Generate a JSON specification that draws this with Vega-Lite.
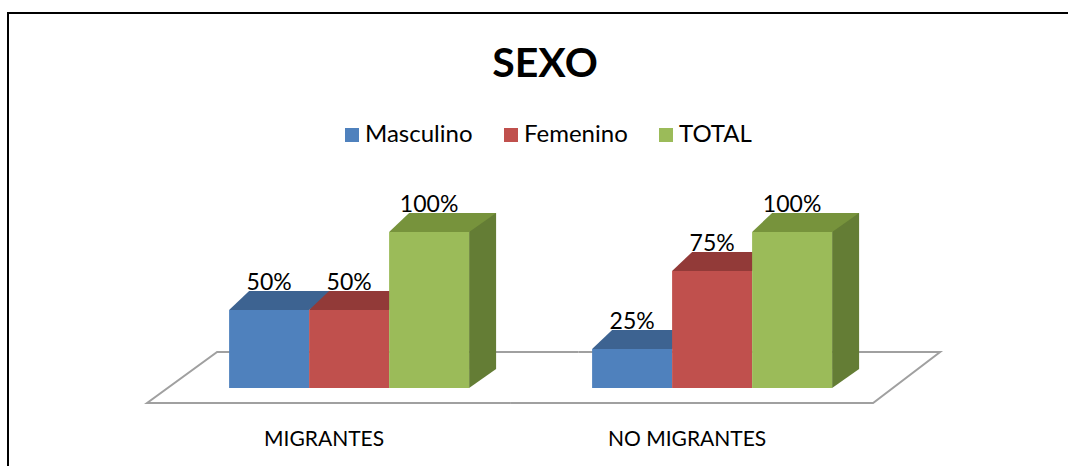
{
  "$schema": "https://vega.github.io/schema/vega-lite/v6.json",
  "width": 1064,
  "height": 457,
  "autosize": {"type": "none"},
  "padding": {"left": 8, "top": 13, "right": -4, "bottom": -4},
  "background": "white",
  "config": {"view": {"stroke": "#000000", "strokeWidth": 2}, "font": "Lato"},
  "title": {"text": "SEXO", "font": "Lato", "fontSize": 41, "fontWeight": "bold", "color": "#000000", "anchor": "middle", "frame": "group", "orient": "top", "offset": 0, "baseline": "alphabetic", "dy": 105, "dx": 5},
  "data": {"values": [
    {"group": "MIGRANTES", "series": "Masculino", "value": 0.5},
    {"group": "MIGRANTES", "series": "Femenino", "value": 0.5},
    {"group": "MIGRANTES", "series": "TOTAL", "value": 1.0},
    {"group": "NO MIGRANTES", "series": "Masculino", "value": 0.25},
    {"group": "NO MIGRANTES", "series": "Femenino", "value": 0.75},
    {"group": "NO MIGRANTES", "series": "TOTAL", "value": 1.0}
  ]},
  "encoding": {
    "x": {"field": "group", "type": "nominal", "sort": null,
      "scale": {"range": [159.6, 885.6], "paddingInner": 0, "paddingOuter": 0},
      "axis": {"title": null, "domain": false, "ticks": false, "tickSize": 0, "grid": false, "labelAngle": 0, "labelFont": "Lato", "labelFontSize": 21, "labelColor": "#000000", "labelPadding": 0, "labelBaseline": "alphabetic", "labelOffset": -25, "offset": -25}}
  },
  "layer": [
    {
      "transform": [{"filter": "datum.series === 'TOTAL'"}],
      "mark": {"type": "point", "filled": false, "size": 4, "opacity": 1, "stroke": "#A0A0A0", "strokeWidth": 2},
      "encoding": {
        "y": {"datum": 0, "type": "quantitative", "scale": {"domain": [0, 1], "range": [375, 219], "nice": false, "zero": true}, "axis": null},
        "shape": {"field": "group", "type": "nominal", "scale": {"domain": ["MIGRANTES", "NO MIGRANTES"], "range": ["M 229.5 -36 L -132 -36 L -202 15 L 161 15", "M -202 15 L 161 15 L 228 -36 L -133.5 -36"]}, "legend": null}
      }
    },
    {
      "transform": [{"filter": "datum.series === 'TOTAL'"}],
      "mark": {"type": "rule", "strokeWidth": 27, "color": "#647D35", "xOffset": 133.5, "yOffset": -19, "y2Offset": -19, "strokeCap": "butt"},
      "encoding": {
        "y": {"field": "value", "type": "quantitative"},
        "y2": {"datum": 0}
      }
    },
    {
      "transform": [{"filter": "datum.series === 'TOTAL'"}],
      "mark": {"type": "point", "filled": true, "size": 4, "opacity": 1, "color": "#647D35", "strokeWidth": 0, "shape": "M 120 0 L 147 -19 L 120 -19 Z"},
      "encoding": {
        "y": {"datum": 0, "type": "quantitative"}
      }
    },
    {
      "mark": {"type": "point", "filled": true, "size": 4, "opacity": 1, "strokeWidth": 0, "shape": "M -40 0 L 40 0 L 67 -19 L -20 -19 Z"},
      "encoding": {
        "xOffset": {"field": "series", "type": "nominal", "sort": ["Masculino", "Femenino", "TOTAL"], "scale": {"paddingInner": 0, "paddingOuter": 0.76875}},
        "y": {"field": "value", "type": "quantitative"},
        "fill": {"field": "series", "type": "nominal", "scale": {"domain": ["Masculino", "Femenino", "TOTAL"], "range": ["#3D6391", "#923A38", "#77933C"]}, "legend": null}
      }
    },
    {
      "mark": {"type": "bar"},
      "encoding": {
        "xOffset": {"field": "series", "type": "nominal", "sort": ["Masculino", "Femenino", "TOTAL"]},
        "y": {"field": "value", "type": "quantitative"},
        "y2": {"datum": 0},
        "color": {"field": "series", "type": "nominal", "sort": ["Masculino", "Femenino", "TOTAL"],
          "scale": {"domain": ["Masculino", "Femenino", "TOTAL"], "range": ["#4F81BD", "#C0504D", "#9BBB59"]},
          "legend": {"orient": "none", "legendX": 332, "legendY": 110, "direction": "horizontal", "title": null, "symbolType": "square", "symbolSize": 196, "symbolStrokeWidth": 0, "labelFont": "Lato", "labelFontSize": 24, "labelColor": "#000000", "labelOffset": 1, "columnPadding": 26, "padding": 0}}
      }
    },
    {
      "mark": {"type": "text", "font": "Lato", "fontSize": 23, "baseline": "alphabetic", "dy": -20, "color": "#000000"},
      "encoding": {
        "xOffset": {"field": "series", "type": "nominal", "sort": ["Masculino", "Femenino", "TOTAL"]},
        "y": {"field": "value", "type": "quantitative"},
        "text": {"field": "value", "type": "quantitative", "format": ".0%"}
      }
    }
  ],
  "resolve": {"scale": {"fill": "independent", "color": "independent"}}
}
